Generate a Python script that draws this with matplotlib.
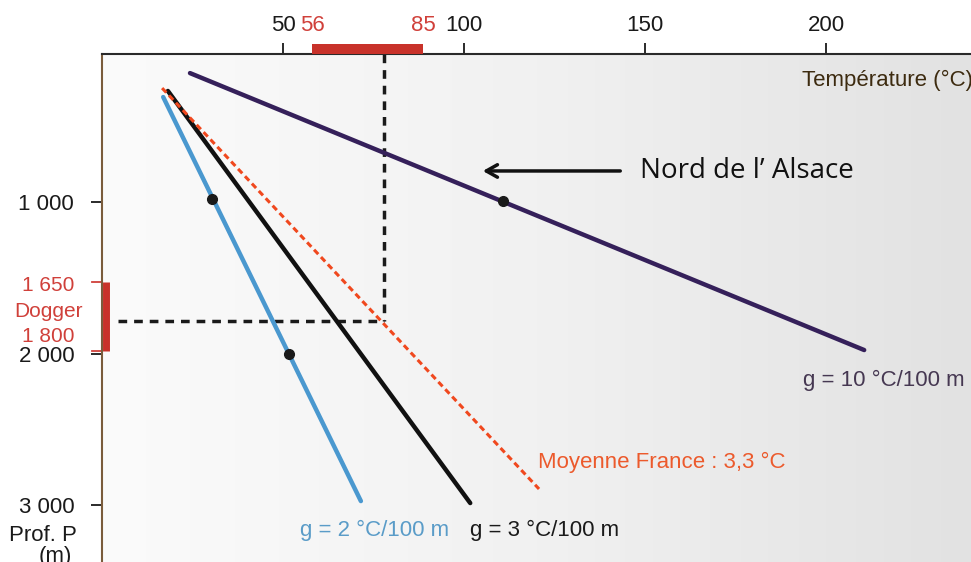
import numpy as np
import matplotlib
matplotlib.use('Agg')
import matplotlib.pyplot as plt
from matplotlib.colors import LinearSegmentedColormap
import matplotlib.transforms as mtransforms

# --- data (schematic) ---
temp_ticks = [50, 100, 150, 200]
depth_ticks = [1000, 2000, 3000]
depth_labels = ['1 000', '2 000', '3 000']

g10_temp = [24.3, 210.5]
g10_depth = [149, 1977]
g10_dot = (110.8, 993)

g3_temp = [18.2, 101.7]
g3_depth = [267, 2987]

g2_temp = [16.9, 71.5]
g2_depth = [307, 2974]
g2_dots_temp = [30.4, 51.7]
g2_dots_depth = [980, 2003]

fr_temp = [16.6, 120.7]
fr_depth = [248, 2894]

dogger_temp = [58.0, 88.7]
dogger_temp_labels = ['56', '85']
dogger_depth = [1528, 1983]
dogger_depth_labels = ['1 650', '1 800']
guide_temp = 77.9
guide_depth = 1785

plt.rcParams['font.family'] = ['Liberation Sans', 'DejaVu Sans']

fig = plt.figure(figsize=(9.71, 5.62), dpi=100)
ax = fig.add_axes([102 / 971, 0, 1 - 102 / 971, 508 / 562])

ax.set_xlim(0, 240)
ax.set_ylim(3376, 23)

# background gradient
cmap = LinearSegmentedColormap.from_list('bg', ['#fbfbfb', '#f1f1f1', '#e2e2e2'])
grad = np.linspace(0, 1, 256).reshape(1, -1)
ax.imshow(grad, extent=[0, 1, 0, 1], transform=ax.transAxes, cmap=cmap,
          aspect='auto', zorder=0)

# spines
for s in ['right', 'bottom']:
    ax.spines[s].set_visible(False)
ax.spines['left'].set_color('#7a5c3c')
ax.spines['left'].set_linewidth(1.5)
ax.spines['top'].set_color('#2a2a2a')
ax.spines['top'].set_linewidth(1.5)

ax.xaxis.tick_top()
ax.set_xticks(temp_ticks)
ax.set_xticklabels([str(t) for t in temp_ticks])
ax.tick_params(axis='x', direction='out', length=8, width=1.3, pad=5,
               labelsize=16, colors='#1a1a1a')
ax.set_yticks(depth_ticks)
ax.set_yticklabels(depth_labels)
ax.tick_params(axis='y', direction='out', length=8, width=1.3, pad=12,
               labelsize=16, colors='#1a1a1a')

# gradient lines
ax.plot(g10_temp, g10_depth, color='#35205a', lw=3.2, solid_capstyle='round', zorder=3)
ax.plot(g3_temp, g3_depth, color='#111111', lw=3.2, solid_capstyle='round', zorder=3)
ax.plot(g2_temp, g2_depth, color='#4a98cf', lw=3.2, solid_capstyle='round', zorder=3)
ax.plot(fr_temp, fr_depth, color='#f0481e', lw=2.2, ls=(0, (2.0, 1.3)), zorder=4)

ax.plot(*g10_dot, 'o', color='#1a1a1a', ms=7, zorder=5)
ax.plot(g2_dots_temp, g2_dots_depth, 'o', color='#1a1a1a', ms=7, ls='none', zorder=5)

# guide dashes
ax.plot([guide_temp, guide_temp], [23, guide_depth], color='#1a1a1a', lw=2.5,
        ls=(0, (2.5, 2)), zorder=2)
ax.plot([4.4, guide_temp], [guide_depth, guide_depth], color='#1a1a1a', lw=2.5,
        ls=(0, (2.5, 2)), zorder=2)

# Dogger bars
red = '#c8322a'
tx = mtransforms.blended_transform_factory(ax.transData, ax.transAxes)
ty = mtransforms.blended_transform_factory(ax.transAxes, ax.transData)
ax.plot(dogger_temp, [1.0098, 1.0098], transform=tx, color=red, lw=7.2,
        solid_capstyle='butt', clip_on=False, zorder=6)
for t, lab in zip(dogger_temp, dogger_temp_labels):
    ax.text(t, 1.057, lab, transform=tx, color='#d0403a', fontsize=16,
            ha='center', va='center', clip_on=False)

ax.plot([0.005, 0.005], dogger_depth, transform=ty, color=red, lw=5,
        solid_capstyle='butt', clip_on=False, zorder=6)
for d in dogger_depth:
    ax.plot([-0.012, 0.0], [d, d], transform=ty, color='#d0403a', lw=1.3,
            clip_on=False)
ax.text(-0.062, 1548, dogger_depth_labels[0], transform=ty, color='#d0403a',
        fontsize=15, ha='center', va='center', clip_on=False)
ax.text(-0.062, 1720, 'Dogger', transform=ty, color='#d0403a',
        fontsize=15, ha='center', va='center', clip_on=False)
ax.text(-0.062, 1885, dogger_depth_labels[1], transform=ty, color='#d0403a',
        fontsize=15, ha='center', va='center', clip_on=False)

# axis titles
ax.text(193.4, 195, 'Température (°C)', color='#3d2b10', fontsize=16,
        ha='left', va='center', clip_on=False)
ax.text(-0.029, 3200, 'Prof. P', transform=ty, color='#1a1a1a', fontsize=16,
        ha='right', va='center', clip_on=False)
ax.text(-0.054, 3340, '(m)', transform=ty, color='#1a1a1a', fontsize=16,
        ha='center', va='center', clip_on=False)

# line labels
ax.text(193.6, 2175, 'g = 10 °C/100 m', color='#463852', fontsize=16,
        ha='left', va='center')
ax.text(120.4, 2716, 'Moyenne France : 3,3 °C', color='#ec5a2c', fontsize=16,
        ha='left', va='center')
ax.text(54.7, 3165, 'g = 2 °C/100 m', color='#5a9cc8', fontsize=16,
        ha='left', va='center')
ax.text(101.7, 3165, 'g = 3 °C/100 m', color='#1a1a1a', fontsize=16,
        ha='left', va='center')

# annotation
ax.annotate('', xy=(104.4, 795), xytext=(143.9, 795),
            arrowprops=dict(arrowstyle='->,head_length=0.8,head_width=0.45',
                            color='#111111', lw=2.5))
ax.text(148.6, 795, 'Nord de l\u2019 Alsace', color='#111111', fontsize=20,
        family=['Open Sans', 'DejaVu Sans'], ha='left', va='center')

fig.savefig('out.png', dpi=100)
